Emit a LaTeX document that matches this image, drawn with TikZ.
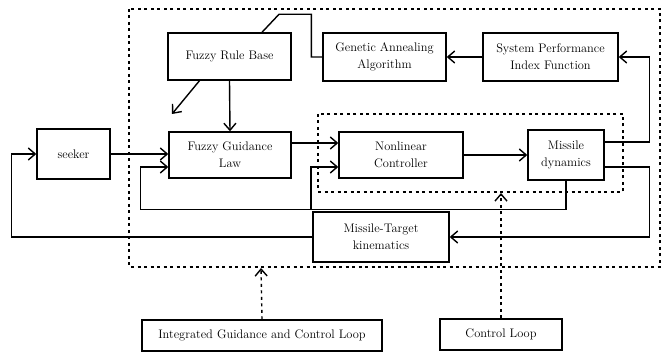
\documentclass[tikz,border=0pt]{standalone}
\usetikzlibrary{arrows.meta,calc}
\begin{document}
\begin{tikzpicture}[x=1pt,y=-1pt,
  blk/.style={draw,line width=1.4pt,align=center,inner sep=0pt,font=\fontsize{12.4}{17}\selectfont},
  conn/.style={line width=1.4pt,-{Straight Barb[length=7pt,width=12pt,line width=1.4pt]}},
  plain/.style={line width=1.4pt},
  dbox/.style={line width=1.4pt,dash pattern=on 3pt off 3.5pt},
  darr/.style={line width=1.4pt,dash pattern=on 3pt off 3.5pt,-{Straight Barb[length=7pt,width=12pt,line width=1.4pt]}}]
\useasboundingbox (0,0) rectangle (662,352);
% dashed boxes
\draw[dbox] (129,9) rectangle (660,267);
\draw[dbox] (318,114) rectangle (623,192);
\coordinate (outerb) at (261,268);
\coordinate (innerb) at (501,193);
% blocks
\node[blk,minimum width=123pt,minimum height=47pt] (frb) at (229.5,56.5) {Fuzzy Rule Base};
\node[blk,minimum width=123pt,minimum height=48pt] (gaa) at (384.5,57) {Genetic Annealing\\Algorithm};
\node[blk,minimum width=135pt,minimum height=48pt] (spi) at (550.5,57) {System Performance\\Index Function};
\node[blk,minimum width=73pt,minimum height=50pt] (seeker) at (73.5,154) {seeker};
\node[blk,minimum width=122pt,minimum height=46pt] (fgl) at (230,155) {Fuzzy Guidance\\Law};
\node[blk,minimum width=124pt,minimum height=46pt] (nc) at (401,155) {Nonlinear\\Controller};
\node[blk,minimum width=76pt,minimum height=50pt] (md) at (566,155) {Missile\\dynamics};
\node[blk,minimum width=136pt,minimum height=50pt] (mt) at (381,237) {Missile-Target\\kinematics};
\node[blk,minimum width=240pt,minimum height=31pt] (igc) at (262,335.5) {Integrated Guidance and Control Loop};
\node[blk,minimum width=122pt,minimum height=31pt] (cl) at (501,334.5) {Control Loop};
% connectors
\draw[plain] ($(frb.north)+(32.5,0)$) -- ++(17,-18) -| ($(gaa.west)+(-11,0)$) -- (gaa.west);
\draw[conn] (spi.west) -- (gaa.east);
\draw[conn] ($(md.east)+(0,-13)$) -- ++(45,0) |- (spi.east);
\draw[conn] ($(md.east)+(0,12)$) -- ++(45,0) |- (mt.east);
\coordinate (diagend) at (172,114);
\draw[conn] ($(frb.south)+(-30,0)$) -- (diagend);
\draw[conn] (frb.south) -- (fgl.north);
\draw[conn] (seeker.east) -- (seeker.east -| fgl.west);
\draw[conn] ($(fgl.east)+(0,-12)$) -- ($(nc.west)+(0,-12)$);
\draw[conn] (md.south) -- ++(0,29) -| ($(fgl.west)+(-28,12)$) -- ($(fgl.west)+(0,12)$);
\coordinate (branch) at (311,209);
\draw[conn] (branch) |- ($(nc.west)+(0,12)$);
\draw[conn] (nc.east) -- (md.west);
\draw[conn] (mt.west) -| ($(seeker.west)+(-25,0)$) -- (seeker.west);
\draw[darr] (igc.north) -- (outerb);
\draw[darr] (cl.north) -- (innerb);
\end{tikzpicture}
\end{document}
